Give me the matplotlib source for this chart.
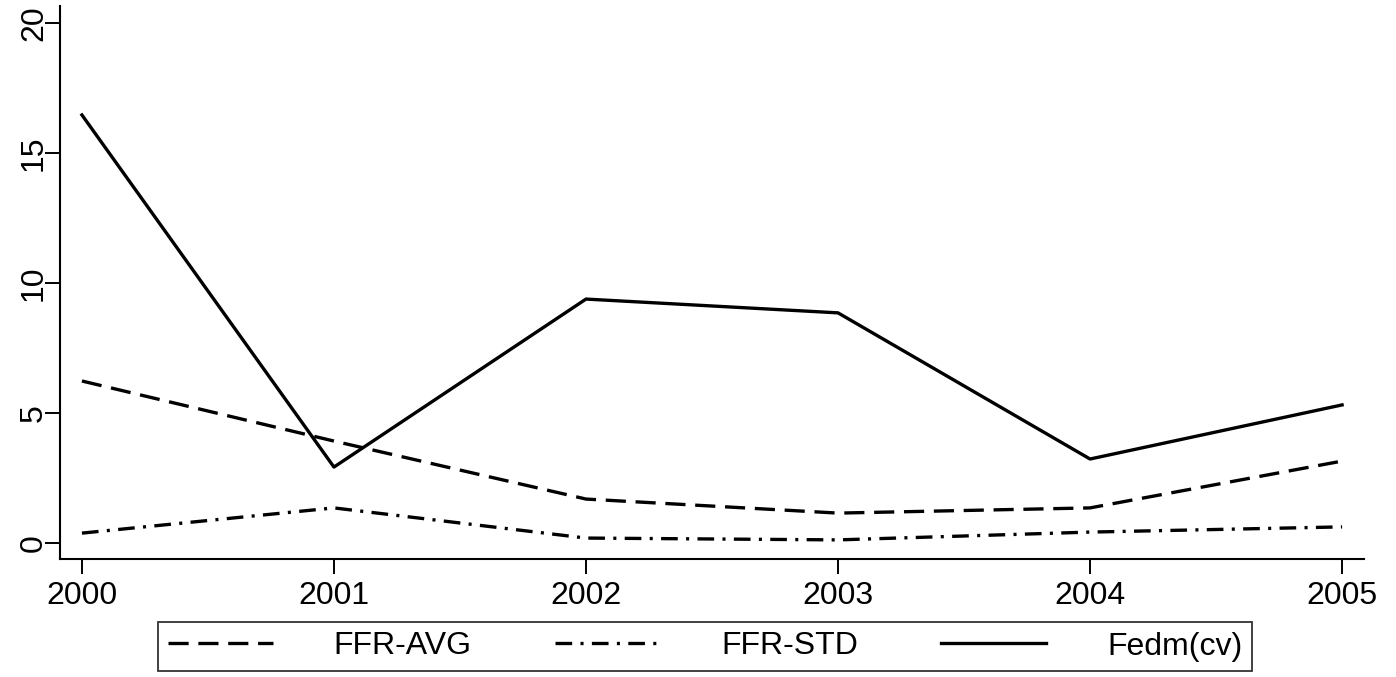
import matplotlib
matplotlib.use("Agg")
import matplotlib.pyplot as plt

years = [2000, 2001, 2002, 2003, 2004, 2005]
ffr_avg = [6.23, 3.92, 1.69, 1.15, 1.35, 3.15]
ffr_std = [0.38, 1.35, 0.19, 0.12, 0.42, 0.62]
fedm_cv = [16.46, 2.92, 9.38, 8.85, 3.23, 5.31]
yticks = [0, 5, 10, 15, 20]
labels = ["FFR-AVG", "FFR-STD", "Fedm(cv)"]

plt.rcParams['font.family'] = ['Liberation Sans', 'DejaVu Sans']
plt.rcParams['lines.scale_dashes'] = False

W, H = 1396, 677
fig = plt.figure(figsize=(W / 100, H / 100), dpi=100)
ax = fig.add_axes([60 / W, 1 - 559 / H, (1364 - 60) / W, (559 - 6) / H])

lw = 2.4
ax.plot(years, ffr_avg, color='black', lw=lw, dashes=(14.5, 7), label=labels[0])
ax.plot(years, ffr_std, color='black', lw=lw, dashes=(12, 6, 2.2, 6), label=labels[1])
ax.plot(years, fedm_cv, color='black', lw=lw, label=labels[2])

ax.set_xlim(1999.913, 2005.087)
ax.set_ylim(-0.615, 20.65)
ax.set_xticks(years)
ax.set_yticks(yticks)
ax.set_yticklabels([str(v) for v in yticks], rotation=90, va='center')
ax.tick_params(axis='both', length=11, width=1.4, color='black', labelsize=23)
ax.tick_params(axis='x', pad=5)
ax.tick_params(axis='y', pad=-3)
for s in ['top', 'right']:
    ax.spines[s].set_visible(False)
for s in ['left', 'bottom']:
    ax.spines[s].set_linewidth(1.5)
    ax.spines[s].set_color('black')

leg = ax.legend(loc='center', bbox_to_anchor=(705 / W, 1 - 646.5 / H),
                bbox_transform=fig.transFigure, ncol=3, fontsize=23,
                handlelength=3.3, handletextpad=1.9, columnspacing=2.6,
                fancybox=False, frameon=True, borderpad=0.3, borderaxespad=0)
leg.get_frame().set_edgecolor('black')
leg.get_frame().set_linewidth(1.3)

fig.savefig('out.png', dpi=100, facecolor='white')
